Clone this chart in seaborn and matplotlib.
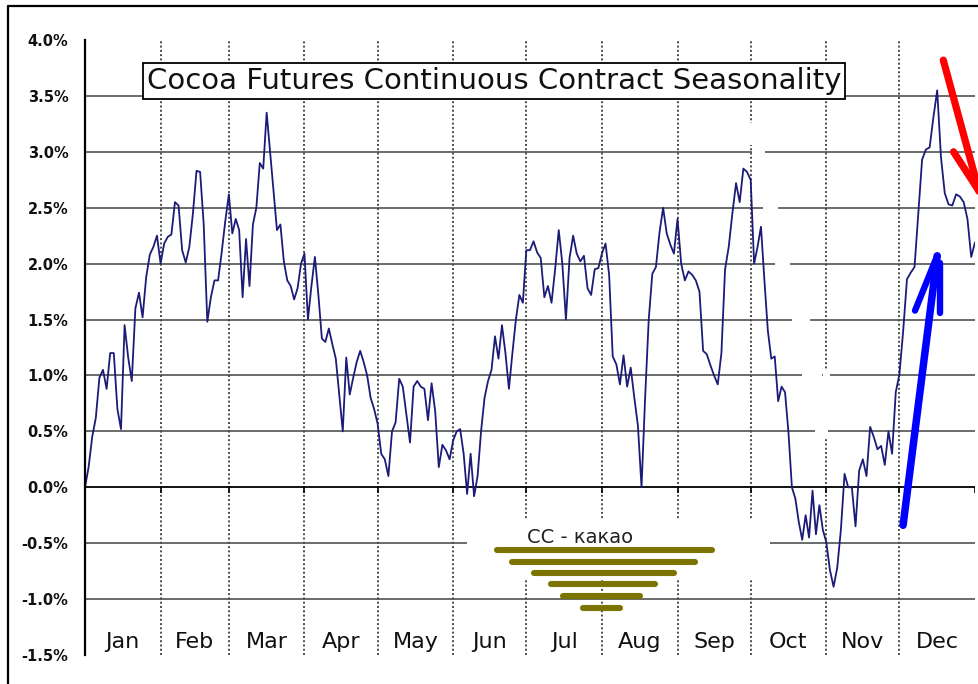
import numpy as np
import pandas as pd
import matplotlib
matplotlib.use("Agg")
import matplotlib.pyplot as plt
from matplotlib.patches import Rectangle
from matplotlib.lines import Line2D
import seaborn as sns

# Average seasonal move (percent) for cocoa futures, sampled through each month
months = ["Jan", "Feb", "Mar", "Apr", "May", "Jun",
          "Jul", "Aug", "Sep", "Oct", "Nov", "Dec"]
month_days = [31, 28, 31, 30, 31, 30, 31, 31, 30, 31, 30, 31]

jan = [0.00, 0.18, 0.45, 0.62, 0.98, 1.05, 0.88, 1.20, 1.20, 0.70, 0.52,
       1.45, 1.16, 0.95, 1.60, 1.74, 1.52, 1.88, 2.08, 2.15, 2.25]
feb = [2.00, 2.18, 2.24, 2.26, 2.55, 2.52, 2.12, 2.01, 2.15, 2.45, 2.83,
       2.82, 2.35, 1.48, 1.70, 1.85, 1.85, 2.10, 2.38]
mar = [2.62, 2.27, 2.40, 2.30, 1.70, 2.22, 1.80, 2.35, 2.50, 2.90, 2.85,
       3.35, 3.00, 2.65, 2.30, 2.35, 2.02, 1.85, 1.80, 1.68, 1.78, 2.00]
apr = [2.09, 1.50, 1.80, 2.06, 1.72, 1.33, 1.30, 1.42, 1.28, 1.15, 0.82,
       0.50, 1.16, 0.83, 0.98, 1.12, 1.22, 1.12, 1.00, 0.80, 0.70]
may = [0.57, 0.30, 0.25, 0.10, 0.50, 0.58, 0.97, 0.90, 0.65, 0.40, 0.90,
       0.95, 0.90, 0.88, 0.60, 0.93, 0.68, 0.18, 0.38, 0.33, 0.25]
jun = [0.42, 0.50, 0.52, 0.30, -0.06, 0.30, -0.08, 0.10, 0.50, 0.80, 0.95,
       1.05, 1.35, 1.15, 1.45, 1.20, 0.88, 1.20, 1.50, 1.72, 1.65]
jul = [2.12, 2.12, 2.20, 2.10, 2.05, 1.70, 1.80, 1.65, 1.95, 2.30, 2.00,
       1.50, 2.05, 2.25, 2.09, 2.02, 2.07, 1.78, 1.72, 1.95, 1.96]
aug = [2.09, 2.18, 1.90, 1.17, 1.10, 0.92, 1.18, 0.90, 1.07, 0.80, 0.55,
       0.00, 0.80, 1.50, 1.91, 1.97, 2.28, 2.50, 2.27, 2.17, 2.09]
sep = [2.40, 2.00, 1.85, 1.93, 1.90, 1.85, 1.75, 1.22, 1.19, 1.09, 1.00,
       0.92, 1.20, 1.95, 2.15, 2.45, 2.72, 2.55, 2.85, 2.82]
oct_ = [2.75, 2.00, 2.15, 2.33, 1.85, 1.40, 1.15, 1.17, 0.77, 0.90, 0.85,
        0.49, 0.00, -0.10, -0.31, -0.47, -0.25, -0.45, -0.03, -0.42, -0.16, -0.38]
nov = [-0.49, -0.74, -0.89, -0.72, -0.38, 0.12, 0.00, 0.00, -0.35, 0.15,
       0.25, 0.10, 0.54, 0.45, 0.34, 0.37, 0.20, 0.50, 0.30, 0.85]
dec = [1.01, 1.40, 1.86, 1.92, 1.97, 2.45, 2.93, 3.02, 3.04, 3.31, 3.55,
       2.95, 2.63, 2.53, 2.52, 2.62, 2.60, 2.55, 2.40, 2.06, 2.19]

y_ticks = [4.0, 3.5, 3.0, 2.5, 2.0, 1.5, 1.0, 0.5, 0.0, -0.5, -1.0, -1.5]
title = "Cocoa Futures Continuous Contract Seasonality"
badge = "CC - какао"

# ---- assemble the daily series ------------------------------------------
bounds = np.concatenate([[0], np.cumsum(month_days)])
series = [jan, feb, mar, apr, may, jun, jul, aug, sep, oct_, nov, dec]
days, vals = [], []
for i, s in enumerate(series):
    a, b = bounds[i], bounds[i + 1]
    if i == len(series) - 1:
        pos = np.linspace(a, b, len(s))
    else:
        pos = a + (b - a) * np.arange(len(s)) / len(s)
    days.extend(pos)
    vals.extend(s)
df = pd.DataFrame({"day": days, "pct": vals})

sns.set_style("white")
plt.rcParams["font.family"] = ["DejaVu Sans"]

W, H = 979, 684
fig = plt.figure(figsize=(W / 100, H / 100), dpi=100)
ax = fig.add_axes([85 / W, 29 / H, 890 / W, 615 / H])
ax.set_xlim(0, 365)
ax.set_ylim(-1.5, 4.0)

# horizontal grid and zero line
for v in y_ticks:
    if v in (4.0, -1.5, 0.0):
        continue
    ax.axhline(v, color="#6a6a6a", lw=1.4, zorder=1)
ax.axhline(0, color="black", lw=1.3, zorder=2)

# dotted month separators
for b in bounds[1:-1]:
    ax.axvline(b, color="#4a4a4a", lw=1.4, ls=(0, (1, 1.2)), zorder=1)
# small month ticks hanging off the zero line
ax.vlines(bounds[1:], -0.055, 0, color="black", lw=1.2, zorder=2)

# erased strokes across the grid
erase = [(272.3, 274.8, 3.06, 3.26), (273.6, 278.9, 2.95, 3.05),
         (278.0, 284.2, 2.45, 2.55), (283.0, 289.2, 1.95, 2.05),
         (290.0, 297.4, 1.45, 1.55), (294.1, 302.3, 0.95, 1.05),
         (299.4, 304.8, 0.45, 0.55), (302.5, 305.5, 0.51, 1.05)]
for x0, x1, y0, y1 in erase:
    ax.add_patch(Rectangle((x0, y0), x1 - x0, y1 - y0, fc="white",
                           ec="none", zorder=1.5))

# seasonal curve
sns.lineplot(data=df, x="day", y="pct", color="#1b1b78", lw=1.3,
             ax=ax, zorder=3, legend=False)

# axis styling
for s in ["top", "right", "bottom"]:
    ax.spines[s].set_visible(False)
ax.spines["left"].set_color("black")
ax.spines["left"].set_linewidth(1.6)
ax.spines["left"].set_zorder(5)
ax.set_xticks([])
ax.set_yticks(y_ticks)
ax.set_yticklabels([f"{v:.1f}%" for v in y_ticks], fontsize=10.5,
                   fontweight="bold", color="#111111")
ax.tick_params(axis="y", length=5, width=1.4, pad=7, color="black")
ax.set_xlabel("")
ax.set_ylabel("")
ax.grid(False)

# month names inside the plot area
for i, m in enumerate(months):
    ax.text((bounds[i] + bounds[i + 1]) / 2, -1.44, m, ha="center",
            va="baseline", fontsize=16, color="#111111", zorder=4)

# boxed title
ax.text(0.4596, 0.933, title, transform=ax.transAxes, ha="center",
        va="center", fontsize=21, color="#111111", zorder=6,
        bbox=dict(boxstyle="square,pad=0.14", fc="white", ec="black", lw=1.3))

# ticker badge
ax.add_patch(Rectangle((156.7, -0.832), 124.3, 0.537, fc="white", ec="none",
                       zorder=1.5))
ax.text(203, -0.50, badge, ha="center", va="baseline", fontsize=14,
        color="#222222", zorder=4)
badge_bars = [(169.0, 257.2, -0.563), (175.1, 250.2, -0.671),
              (184.2, 241.6, -0.769), (191.1, 233.8, -0.868),
              (196.1, 227.6, -0.975), (204.3, 219.4, -1.082)]
for x0, x1, y in badge_bars:
    ax.plot([x0, x1], [y, y], color="#7b7400", lw=4.4,
            solid_capstyle="round", zorder=4)

# hand-drawn arrows
red = "#ff0000"
ax.plot([352.0, 369.6], [3.82, 2.41], color=red, lw=5.2,
        solid_capstyle="round", clip_on=False, zorder=7)
ax.plot([356.2, 369.6], [3.00, 2.55], color=red, lw=5.2,
        solid_capstyle="round", clip_on=False, zorder=7)
blue = "#0000ff"
ax.plot([335.5, 349.5], [-0.34, 2.07], color=blue, lw=5.4,
        solid_capstyle="round", zorder=7)
ax.plot([340.4, 349.5], [1.58, 2.07], color=blue, lw=4.6,
        solid_capstyle="round", zorder=7)
ax.plot([350.7, 350.7], [1.56, 2.01], color=blue, lw=4.6,
        solid_capstyle="round", zorder=7)

# outer frame
fig.add_artist(Line2D([8 / W, 1.01], [1 - 6 / H, 1 - 6 / H], color="black",
                      lw=1.6, transform=fig.transFigure))
fig.add_artist(Line2D([8 / W, 8 / W], [1 - 6 / H, -0.01], color="black",
                      lw=1.6, transform=fig.transFigure))

fig.savefig("out.png", dpi=100, facecolor="white")
